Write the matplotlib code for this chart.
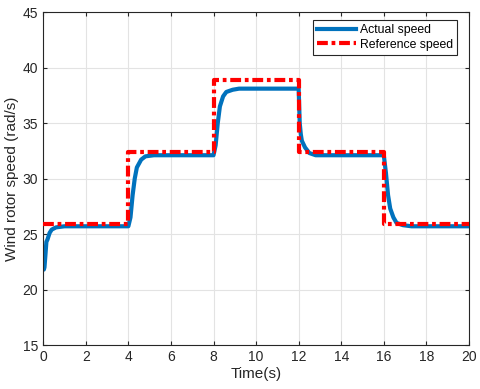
import matplotlib
matplotlib.use("Agg")
import matplotlib.pyplot as plt

plt.rcParams['font.family'] = ['Liberation Sans', 'DejaVu Sans']

# Reference speed (step profile)
ref_t = [0, 4, 4, 8, 8, 12, 12, 16, 16, 20]
ref_v = [25.9, 25.9, 32.4, 32.4, 38.9, 38.9, 32.4, 32.4, 25.9, 25.9]

# Actual speed
act_t = [0, 0.03, 0.06, 0.1, 0.15, 0.2, 0.25, 0.3, 0.4, 0.6, 1.0, 4.0,
         4.1, 4.2, 4.3, 4.4, 4.6, 4.8, 5.2, 8.0,
         8.1, 8.2, 8.3, 8.45, 8.6, 8.9, 9.2, 12.0,
         12.05, 12.1, 12.15, 12.2, 12.3, 12.5, 12.8, 16.0,
         16.1, 16.2, 16.3, 16.45, 16.6, 16.9, 17.3, 20.0]
act_v = [22.3, 21.8, 22.0, 23.0, 24.3, 24.5, 24.8, 25.1, 25.4, 25.6, 25.7, 25.7,
         26.5, 28.5, 30.0, 31.0, 31.7, 32.0, 32.1, 32.1,
         33.0, 35.0, 36.5, 37.4, 37.8, 38.0, 38.1, 38.1,
         35.0, 34.0, 33.4, 33.2, 32.8, 32.3, 32.1, 32.1,
         30.5, 28.5, 27.3, 26.5, 26.0, 25.8, 25.7, 25.7]

fig = plt.figure(figsize=(4.8, 3.89), dpi=100)
ax = fig.add_axes([0.09, 0.113, 0.887, 0.856])

ax.plot(act_t, act_v, color='#0072BD', lw=3.0, label='Actual speed', zorder=2)
ax.plot(ref_t, ref_v, color='red', lw=3.0, ls=(0, (2.6, 0.9, 0.9, 0.9)),
        label='Reference speed', zorder=3)

ax.set_xlim(0, 20)
ax.set_ylim(15, 45)
ax.set_xticks(range(0, 21, 2))
ax.set_yticks(range(15, 46, 5))
ax.grid(True, color='#e3e3e3', lw=0.8)
ax.set_axisbelow(True)
ax.tick_params(direction='in', top=True, right=True, labelsize=10, length=3, colors='#262626')
for s in ax.spines.values():
    s.set_color('#262626')
    s.set_linewidth(0.8)
ax.set_xlabel('Time(s)', fontsize=11, color='#262626', labelpad=2)
ax.set_ylabel('Wind rotor speed (rad/s)', fontsize=11, color='#262626', labelpad=3)

leg = ax.legend(loc='upper right', bbox_to_anchor=(0.972, 0.976), fontsize=8.8,
                fancybox=False, framealpha=1, edgecolor='#262626', handlelength=3.2,
                borderpad=0.35, labelspacing=0.2, handletextpad=0.3, borderaxespad=0)
leg.get_frame().set_linewidth(0.8)

fig.savefig('out.png', dpi=100)
